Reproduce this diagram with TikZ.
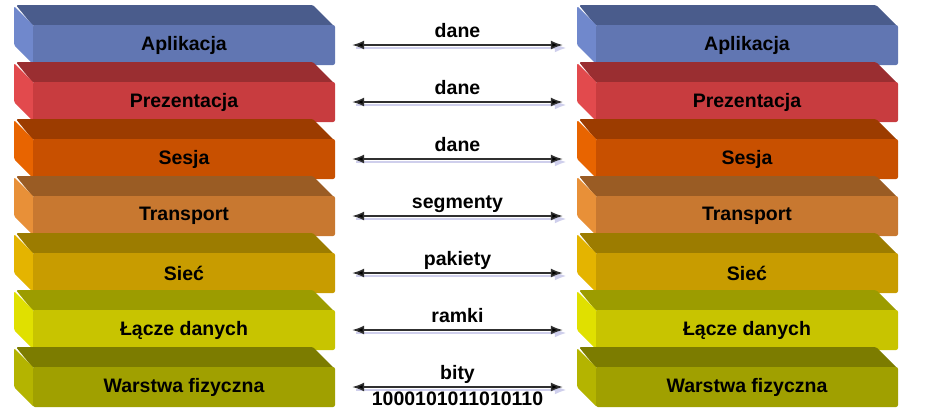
\documentclass[tikz,border=0pt]{standalone}
\usepackage{fontspec}
\setmainfont{Liberation Sans}
\usetikzlibrary{arrows.meta}
\definecolor{f0}{HTML}{6176B2}\definecolor{t0}{HTML}{4A5C8C}\definecolor{l0}{HTML}{7088CC}
\definecolor{f1}{HTML}{C83C3F}\definecolor{t1}{HTML}{9A2E31}\definecolor{l1}{HTML}{E24A4D}
\definecolor{f2}{HTML}{C85000}\definecolor{t2}{HTML}{9C3C00}\definecolor{l2}{HTML}{E86400}
\definecolor{f3}{HTML}{C87830}\definecolor{t3}{HTML}{9A5C24}\definecolor{l3}{HTML}{E89038}
\definecolor{f4}{HTML}{C89C00}\definecolor{t4}{HTML}{9C7C00}\definecolor{l4}{HTML}{E4B400}
\definecolor{f5}{HTML}{C8C400}\definecolor{t5}{HTML}{9C9C00}\definecolor{l5}{HTML}{E0E000}
\definecolor{f6}{HTML}{A0A000}\definecolor{t6}{HTML}{7C7C00}\definecolor{l6}{HTML}{B4B400}
\definecolor{shadowc}{HTML}{CFCFEC}
\definecolor{linec}{HTML}{303030}
\begin{document}
\begin{tikzpicture}[x=1pt,y=-1pt,
  layer/.style={rectangle, rounded corners=2pt, minimum width=302pt, minimum height=40pt, inner sep=0pt,
    font=\bfseries\fontsize{19.5}{22}\selectfont, text=black},
  pdu/.style={font=\bfseries\fontsize{19.5}{22}\selectfont, text=black, inner sep=0pt},
  arr/.style={draw=linec, line width=1.5pt, {Latex[length=12pt,width=9pt,fill=black]}-{Latex[length=12pt,width=9pt,fill=black]}},
  shadowline/.style={draw=shadowc, line width=2.5pt, -{Latex[length=12pt,width=9pt,fill=shadowc]}}]
\useasboundingbox (0,0) rectangle (932,416);
\foreach \s/\dx in {L/0, R/563} {
  \foreach \i/\t in {0/Aplikacja, 1/Prezentacja, 2/Sesja, 3/Transport, 4/Sieć, 5/Łącze danych, 6/Warstwa fizyczna} {
    \pgfmathsetmacro{\oy}{57*\i}
    \fill[t\i, rounded corners=1.5pt] (16+\dx,5+\oy) -- (313+\dx,5+\oy) -- (334+\dx,26+\oy) -- (33+\dx,26+\oy) -- cycle;
    \fill[l\i, rounded corners=1.5pt] (14+\dx,6+\oy) -- (34+\dx,26+\oy) -- (34+\dx,65+\oy) -- (14+\dx,45+\oy) -- cycle;
    \node[layer, fill=f\i] (\s\i) at (184+\dx,45+\oy) {\t};
  }
}
\foreach \i/\lab in {0/dane, 1/dane, 2/dane, 3/segmenty, 4/pakiety, 5/ramki, 6/bity} {
  \draw[shadowline] ([shift={(21pt,-3pt)}]L\i.east) -- ([shift={(-29pt,-3pt)}]R\i.west);
  \draw[arr] ([xshift=17pt]L\i.east) -- ([xshift=-33pt]R\i.west)
    node[pdu, midway, anchor=base, yshift=8pt] (P\i) {\lab};
}
\node[pdu, anchor=base] (bits) at ([yshift=-26pt]P6.base) {1000101011010110};
\end{tikzpicture}
\end{document}
